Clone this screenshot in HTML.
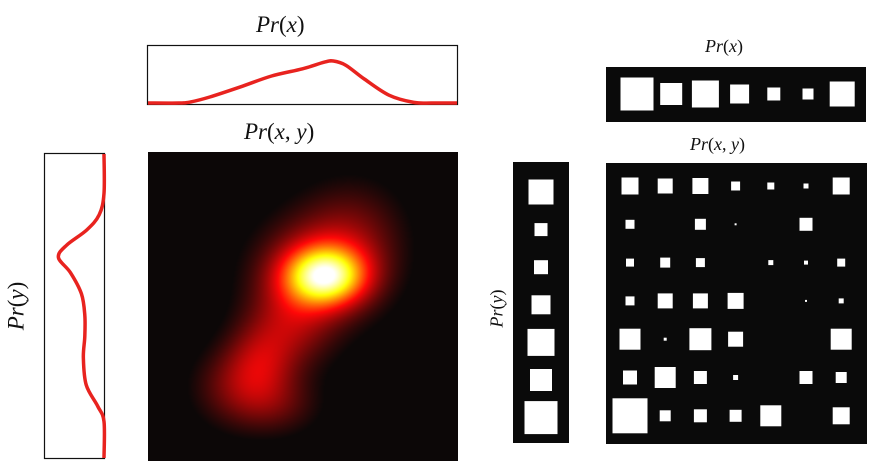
<!DOCTYPE html>
<html><head><meta charset="utf-8"><style>
body{margin:0;background:#fff;width:890px;height:476px;overflow:hidden;position:relative;font-family:"Liberation Serif",serif}
.t{position:absolute;white-space:nowrap;color:#111}
.t i{font-style:italic}
</style></head><body>
<div class="t" style="left:256px;top:12px;font-size:23px"><i>Pr</i>(<i>x</i>)</div>
<div class="t" style="left:244px;top:119px;font-size:23px"><i>Pr</i>(<i>x</i>, <i>y</i>)</div>
<div class="t" style="left:-8px;top:293px;font-size:23px;transform:rotate(-90deg);transform-origin:center"><i>Pr</i>(<i>y</i>)</div>
<div class="t" style="left:705px;top:36px;font-size:18px"><i>Pr</i>(<i>x</i>)</div>
<div class="t" style="left:690px;top:134px;font-size:18px"><i>Pr</i>(<i>x</i>, <i>y</i>)</div>
<div class="t" style="left:478px;top:298px;font-size:18px;transform:rotate(-90deg);transform-origin:center"><i>Pr</i>(<i>y</i>)</div>

<svg id="sv" width="890" height="476" style="position:absolute;left:0;top:0">
<rect x="147.5" y="45.5" width="310" height="59" fill="none" stroke="#111" stroke-width="1.2"/>
<rect x="44.5" y="153.5" width="60" height="305" fill="none" stroke="#111" stroke-width="1.2"/>
<rect x="148" y="152" width="310" height="309" fill="#0c0707"/>
<foreignObject x="148" y="152" width="310" height="309"><canvas xmlns="http://www.w3.org/1999/xhtml" id="cv" width="310" height="309"></canvas></foreignObject>
<rect x="606" y="67" width="260" height="55" fill="#0a0a0a"/>
<rect x="513" y="162" width="56" height="281" fill="#0a0a0a"/>
<rect x="606" y="163" width="261" height="281" fill="#0a0a0a"/>
<g id="g"></g>
</svg>
<script>
// Pr(x) curve (x positions 0..1, density 0..1)
const prxPos=[0,0.1,0.14,0.2,0.3,0.4,0.5,0.57,0.6,0.64,0.7,0.78,0.86,0.92,1];
const prxVal=[0,0,0.02,0.1,0.27,0.45,0.57,0.68,0.7,0.63,0.4,0.13,0.01,0,0];
// Pr(y) curve (y positions 0..1 top->bottom, density 0..1 ; 1 = right edge)
const pryPos=[0,0.13,0.2,0.25,0.3,0.34,0.39,0.46,0.53,0.6,0.67,0.76,0.83,0.88,1];
const pryVal=[1,1,0.9,0.64,0.22,0.05,0.3,0.53,0.6,0.6,0.57,0.63,0.87,1,1];
// heatmap gaussian components
const hmCx=[0.57,0.55,0.66,0.36,0.28,0.46,0.42];
const hmCy=[0.40,0.38,0.25,0.68,0.76,0.56,0.82];
const hmW=[1.0,0.4,0.2,0.3,0.24,0.3,0.18];
const hmSx=[0.09,0.14,0.12,0.08,0.1,0.1,0.1];
const hmSy=[0.065,0.12,0.12,0.09,0.09,0.1,0.07];
// Hinton values
const hxVals=[33,22,27,19,13,11,25];
const hyVals=[25,13,14,19,27,22,33];
const hxyVals=[
[17,15,16,9,7,5,17],
[9,0,11,2,0,13,0],
[8,10,9,0,5,4,8],
[9,15,15,16,0,2,5],
[21,3,22,15,0,0,21],
[14,21,13,5,0,13,11],
[35,11,13,12,21,0,17]];

const NS="http://www.w3.org/2000/svg";
const g=document.getElementById('g');
function mk(t,a){const e=document.createElementNS(NS,t);for(const k in a)e.setAttribute(k,a[k]);return e;}
function smooth(P){let d='M'+P[0][0]+','+P[0][1];
for(let i=0;i<P.length-1;i++){const p0=P[Math.max(0,i-1)],p1=P[i],p2=P[i+1],p3=P[Math.min(P.length-1,i+2)];
d+=' C'+(p1[0]+(p2[0]-p0[0])/6)+','+(p1[1]+(p2[1]-p0[1])/6)+' '+(p2[0]-(p3[0]-p1[0])/6)+','+(p2[1]-(p3[1]-p1[1])/6)+' '+p2[0]+','+p2[1];}
return d;}
const px=v=>148+v*309, pyx=v=>103-v*60;
let l=mk('path',{d:smooth(prxPos.map((p,i)=>[px(p),pyx(prxVal[i])])),fill:'none',stroke:'#e8231f','stroke-width':3.5,'stroke-linejoin':'round'});


g.appendChild(l);
const yy=v=>154+v*304, xx=v=>56+v*48;
l=mk('path',{d:smooth(pryPos.map((p,i)=>[xx(pryVal[i]),yy(p)])),fill:'none',stroke:'#e8231f','stroke-width':3.5,'stroke-linejoin':'round'});


g.appendChild(l);
function sq(cx,cy,s,name){if(s<=0)return;const r=mk('rect',{x:cx-s/2,y:cy-s/2,width:s,height:s,fill:'#fff'});


g.appendChild(r);}
hxVals.forEach((v,i)=>sq(637+i*34.2,94,v,'hinton-x-square'));
hyVals.forEach((v,i)=>sq(541,192+i*37.6,v,'hinton-y-square'));
hxyVals.forEach((row,j)=>row.forEach((v,i)=>sq(630+i*35.2,186+j*38.3,v,'hinton-xy-square')));
const cv=document.getElementById('cv');


const c=cv.getContext('2d'),W=310,H=309,img=c.createImageData(W,H);
const f=new Float32Array(W*H);let mx=0;
for(let y=0;y<H;y++)for(let x=0;x<W;x++){const u=x/W,v=y/H;let s=0;
for(let k=0;k<hmCx.length;k++){const a=(u-hmCx[k])/hmSx[k],b=(v-hmCy[k])/hmSy[k];s+=hmW[k]*Math.exp(-0.5*(a*a+b*b));}
f[y*W+x]=s;if(s>mx)mx=s;}
const cl=t=>Math.max(0,Math.min(1,t));
for(let i=0;i<W*H;i++){const t=cl((f[i]/mx-0.05)/0.9);
img.data[i*4]=12+243*cl(t/0.375);img.data[i*4+1]=7+248*cl((t-0.375)/0.375);img.data[i*4+2]=7+248*cl((t-0.75)/0.25);img.data[i*4+3]=255;}
c.putImageData(img,0,0);
</script>
</body></html>
